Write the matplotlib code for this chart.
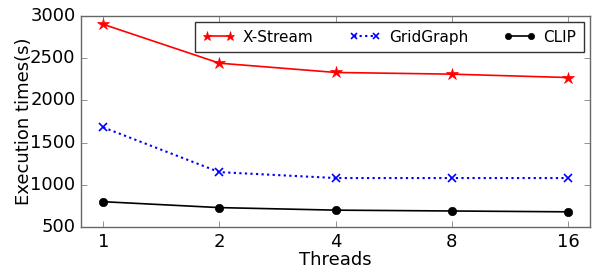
import matplotlib
matplotlib.use("Agg")
import matplotlib.pyplot as plt

threads = ["1", "2", "4", "8", "16"]
xstream = [2900, 2440, 2330, 2310, 2270]
gridgraph = [1680, 1150, 1080, 1080, 1080]
clip = [800, 730, 700, 690, 680]

plt.style.use("classic")
plt.rcParams["font.family"] = "DejaVu Sans"

fig = plt.figure(figsize=(6.01, 2.69), dpi=100, facecolor="white")
ax = fig.add_axes([0.135, 0.156, 0.847, 0.785])
x = list(range(len(threads)))
ax.plot(x, xstream, color="red", marker="*", linestyle="-", linewidth=1.2,
        markersize=9, markeredgecolor="red", label="X-Stream")
ax.plot(x, gridgraph, color="blue", marker="x", linestyle=(0, (1.6, 2.4)), linewidth=1.5,
        markersize=6, markeredgewidth=1.2, label="GridGraph")
ax.plot(x, clip, color="black", marker="o", linestyle="-", linewidth=1.2,
        markersize=6, label="CLIP")
ax.set_xlim(-0.19, 4.19)
ax.set_ylim(500, 3000)
ax.set_xticks(x)
ax.set_xticklabels(threads)
ax.set_yticks([500, 1000, 1500, 2000, 2500, 3000])
for s in ax.spines.values():
    s.set_color("0.4")
ax.tick_params(labelsize=13, direction="in", top=True, right=True, color="0.4")
ax.set_xlabel("Threads", fontsize=13, labelpad=0)
ax.set_ylabel("Execution times(s)", fontsize=13, labelpad=-2)
leg = ax.legend(loc="upper right", ncol=3, fontsize=11, numpoints=2,
          frameon=True, fancybox=False, borderaxespad=0.4, columnspacing=2.35,
          handlelength=2.1, handletextpad=0.5, markerscale=0.75, borderpad=0.5)
leg.get_frame().set_edgecolor("0.2")
fig.savefig("out.png", dpi=100, facecolor="white")
